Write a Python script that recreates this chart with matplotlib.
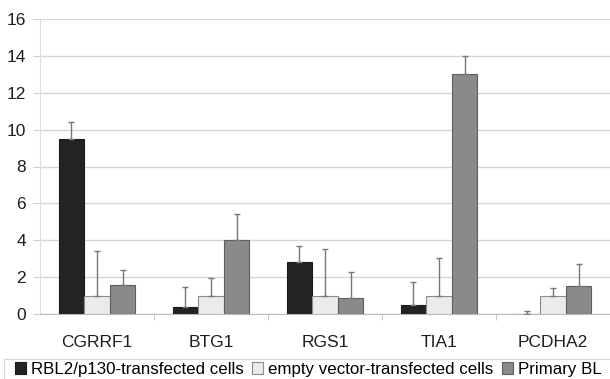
import matplotlib
matplotlib.use("Agg")
import matplotlib.pyplot as plt
from matplotlib.patches import Rectangle
import numpy as np

genes = ["CGRRF1", "BTG1", "RGS1", "TIA1", "PCDHA2"]
series = ["RBL2/p130-transfected cells", "empty vector-transfected cells", "Primary BL"]
rbl2 = [9.5, 0.4, 2.8, 0.5, 0.0]
rbl2_err = [0.9, 1.05, 0.9, 1.25, 0.18]
empty = [1.0, 1.0, 1.0, 1.0, 1.0]
empty_err = [2.4, 0.95, 2.5, 2.05, 0.4]
primary = [1.6, 4.0, 0.85, 13.0, 1.5]
primary_err = [0.8, 1.4, 1.45, 1.0, 1.2]
yticks = [0, 2, 4, 6, 8, 10, 12, 14, 16]

plt.rcParams["font.family"] = ["Liberation Sans", "DejaVu Sans"]

W, H = 610, 379
fig = plt.figure(figsize=(W / 100, H / 100), dpi=100)
ax = fig.add_axes([40 / W, (H - 314) / H, 570 / W, 295 / H])

x = np.arange(len(genes))
w = 0.225
colors = ["#232323", "#ebebeb", "#8a8a8a"]
edges = ["#1a1a1a", "#8c8c8c", "#5e5e5e"]
data = [(rbl2, rbl2_err), (empty, empty_err), (primary, primary_err)]
handles = []
for i, ((vals, errs), c, ec) in enumerate(zip(data, colors, edges)):
    pos = x + (i - 1) * w
    h = ax.bar(pos, vals, width=w, color=c, edgecolor=ec, linewidth=0.8,
               label=series[i], zorder=3)
    ax.errorbar(pos, vals, yerr=[np.zeros(len(vals)), errs], fmt="none",
                ecolor="#777777", elinewidth=1.0, capsize=2, capthick=1.0, zorder=4)
    handles.append(h)

ax.set_xlim(-0.5, len(genes) - 0.5)
ax.set_ylim(0, 16)
ax.set_yticks(yticks)
ax.set_yticklabels([str(t) for t in yticks], fontsize=12.5, color="#1e1e1e")
ax.set_xticks(x)
ax.set_xticklabels(genes, fontsize=12.5, color="#1e1e1e")
ax.tick_params(axis="x", length=0, pad=15)
ax.tick_params(axis="y", length=5, color="#d0d0d0", pad=5)
ax.set_xticks(np.arange(0.5, len(genes) - 0.5, 1), minor=True)
ax.tick_params(axis="x", which="minor", length=4, color="#bbbbbb")
ax.yaxis.grid(True, color="#d6d6d6", linewidth=1.0, zorder=0)
ax.set_axisbelow(True)
for s in ["top", "right"]:
    ax.spines[s].set_visible(False)
ax.spines["left"].set_color("#dddddd")
ax.spines["bottom"].set_color("#bbbbbb")

# legend frame spanning the width of the figure
fig.patches.append(Rectangle((4 / W, -0.01), 1.0, (20.5 / H) + 0.01,
                             transform=fig.transFigure, facecolor="white",
                             edgecolor="#d8d8d8", linewidth=0.8, zorder=1))
leg = fig.legend(handles=handles, labels=series, loc="center left",
                 bbox_to_anchor=(15 / W, 9.5 / H), ncol=3, fontsize=12.2,
                 frameon=False, handlelength=0.65, handleheight=0.65,
                 handletextpad=0.3, columnspacing=0.5, borderpad=0.0,
                 borderaxespad=0.0)

fig.savefig("out.png", dpi=100)
